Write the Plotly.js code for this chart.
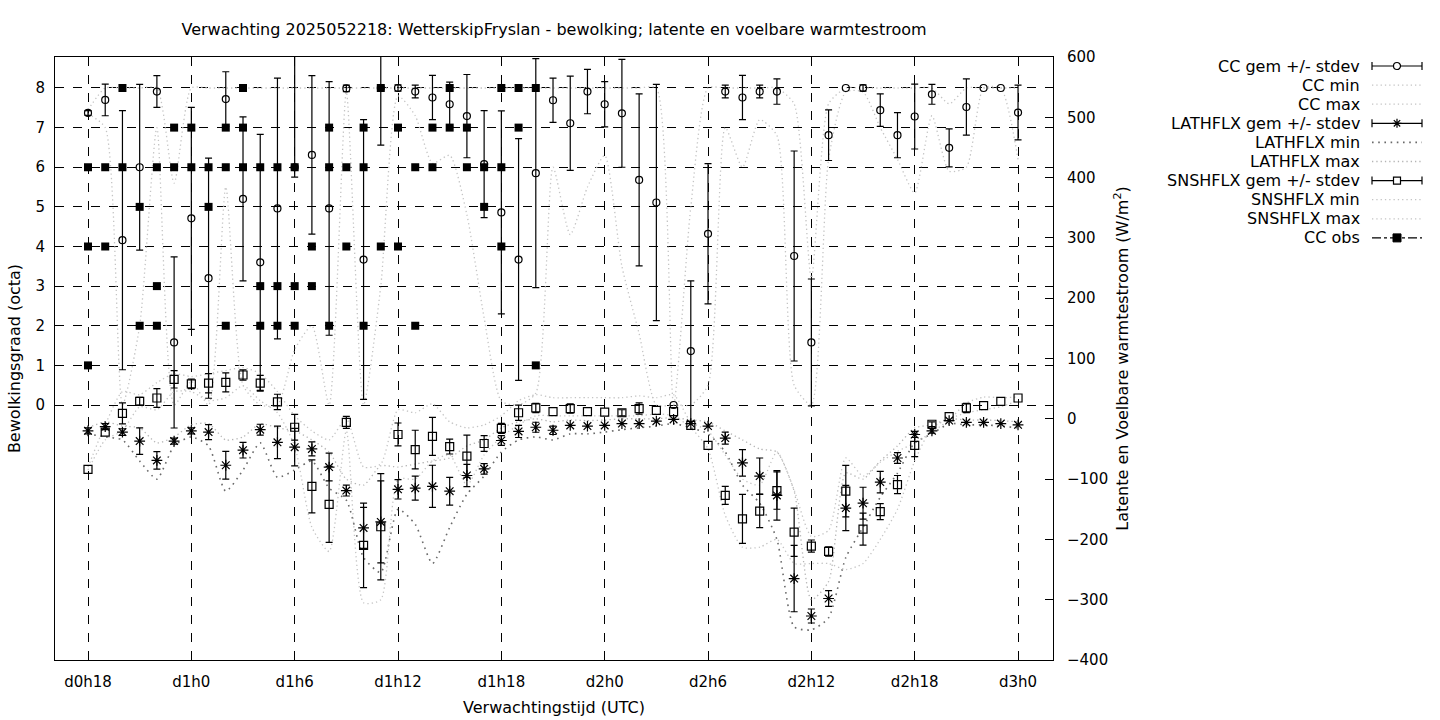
<!DOCTYPE html>
<html><head><meta charset="utf-8">
<script src="https://cdn.plot.ly/plotly-3.0.1.min.js"></script>
<style>html,body{margin:0;padding:0;background:#fff}#chart{width:1440px;height:720px}</style>
</head><body><div id="chart"></div>
<script>
// forecast hour since d0h0
const hours = [18,19,20,21,22,23,24,25,26,27,28,29,30,31,32,33,34,35,36,37,38,39,40,41,42,43,44,45,46,47,48,49,50,51,52,53,54,55,56,57,58,59,60,61,62,63,64,65,66,67,68,69,70,71,72];
const tickHours = [18,24,30,36,42,48,54,60,66,72];
const tickLabels = ['d0h18','d1h0','d1h6','d1h12','d1h18','d2h0','d2h6','d2h12','d2h18','d3h0'];

// cloud cover (octa)
const cc_mean = [7.37,7.70,4.16,6.00,7.91,1.58,4.71,3.20,7.72,5.20,3.60,4.96,6.00,6.31,4.96,7.99,3.67,8.00,8.00,7.91,7.76,7.59,7.29,6.08,4.86,3.67,5.85,7.69,7.11,7.91,7.59,7.36,5.68,5.11,0.00,1.36,4.32,7.91,7.76,7.91,7.91,3.76,1.58,6.81,8.00,8.00,7.44,6.81,7.28,7.84,6.49,7.52,8.00,8.00,7.38];
const cc_sd_plus = [0.06,0.40,3.27,2.09,0.40,2.16,2.80,3.03,0.69,2.07,3.23,3.29,3.00,2.00,3.20,0.08,3.53,1.44,0.08,0.16,0.56,0.56,1.05,1.35,2.56,3.05,2.89,0.56,1.19,0.56,0.57,1.36,2.17,2.98,0,1.77,1.77,0.16,0.56,0.16,0.32,2.65,1.60,0.64,0,0.08,0.41,0.57,0.82,0.25,0.48,0.71,0,0,0.69];
const cc_sd_minus = [0.06,0.40,3.27,2.09,0.40,2.16,2.80,3.03,0.69,2.07,3.23,3.29,0.25,2.00,3.20,0.08,3.53,1.44,0.08,0.16,0.56,0.56,1.05,1.35,2.56,3.05,2.89,0.56,1.19,0.56,0.57,1.36,2.17,2.98,0,1.77,1.77,0.16,0.56,0.16,0.32,2.65,1.60,0.64,0,0.08,0.41,0.57,0.82,0.25,0.48,0.71,0,0,0.69];
const cc_min = [7.35,7.0,0,2.0,7.0,0,0.6,0,5.5,0.5,0,0,1.4,2.0,0,7.9,0,3.0,7.8,7.3,6.1,6.3,4.8,2.2,0.1,0,0.3,6.0,4.3,5.5,6.3,3.5,1.8,0,0,0,0.5,7.0,6.0,7.2,6.8,0.5,0,6.2,7.9,7.9,7.0,6.2,5.35,7.3,5.9,6.0,8,8,6.2];
const cc_max = [7.45,8,8,8,8,5.6,8,8,8,8,8,8,8,8,8,8,8,8,8,8,8,8,8,8,8,8,8,8,8,8,8,8,8,8,0,5.0,8,8,8,8,8,7.6,3.2,7.6,8,8,8,8,8,8,7.6,8,8,8,8];

// latent heat flux (W/m2)
const lath_mean = [-20,-13,-22,-37,-69,-37,-20,-22,-77,-52,-18,-39,-47,-50,-80,-119,-181,-171,-117,-115,-112,-120,-94,-83,-36,-21,-14,-19,-11,-12,-11,-8,-8,-4,-1,-8,-12,-32,-73,-95,-127,-265,-327,-298,-148,-140,-105,-65,-26,-20,-3,-6,-6,-8,-10];
const lath_sd = [5,5,5.5,22,14.6,5,5,12.4,23,13,9,27,31,11.6,23,9,34,68,16,20,35,23,18.5,8.6,8,10,8.3,7,0,0,0,0,0,0,0,0,0,10,22,30,41,55,11.6,13,37.6,26.5,17.7,9,5,4,0,0,0,0,0];
const lath_min = [-25,-30,-35,-70,-100,-45,-30,-45,-120,-85,-40,-97,-85,-70,-115,-135,-230,-255,-150,-175,-240,-180,-125,-95,-55,-35,-30,-35,-25,-25,-22,-18,-15,-12,-8,-15,-25,-55,-110,-140,-200,-345,-350,-330,-230,-180,-130,-90,-40,-25,-8,-10,-10,-12,-15];
const lath_max = [-15,-5,-12,-15,-40,-30,-10,-8,-35,-30,-8,-15,-20,-35,-55,-100,-110,-78,-80,-75,-70,-65,-45,-35,-15,-5,0,-5,-2,-3,-2,0,0,0,2,-2,-5,-20,-35,-50,-55,-120,-300,-270,-90,-100,-70,-45,-15,-10,0,-2,-2,-3,-5];

// sensible heat flux (W/m2)
const sns_mean = [-84,-22,9,29,34.5,65.5,58,59,60.5,72.6,59,28,-14,-112,-142,-6,-210,-179,-26,-51,-29,-46,-62,-41,-16,10,18,12,17,12,11,10,17,14,12,-11,-44,-127,-166,-153,-119,-188,-211,-220,-120,-183,-154,-109,-44,-9,3.5,18,22,29,34.5];
const sns_sd = [0,0,17.4,6.4,15.7,14.4,8,16,15.7,8.6,13,12.7,21.5,44,63,10,70,88,19,32,31.5,12.4,35,13,8.3,12.7,7.7,0,7.7,0,0,5,9.4,0,0,0,0,15,40.6,27.6,31,40,10,7.7,42.6,26.5,13.3,15,18.8,4,0,7.7,0,0,0];
const sns_min = [-85,-35,-20,20,15,45,45,30,35,55,30,10,-45,-180,-220,-20,-305,-300,-100,-100,-70,-60,-110,-60,-30,-10,5,5,5,5,5,5,5,8,5,-15,-50,-160,-213,-213,-200,-240,-240,-240,-250,-240,-200,-150,-70,-15,0,10,15,20,30];
const sns_max = [-80,-10,45,40,60,75,70,75,80,85,75,45,5,-20,-35,0,-80,-75,15,10,25,-5,-15,-10,5,30,40,35,35,35,35,35,38,35,40,-5,-20,-60,-100,-110,-55,-118,-195,-185,-65,-95,-72,-54,-40,-22,-2,26,36,35,36];

// observed cloud cover (octa), several stations per hour
const obs_hours = [18,18,18,19,19,20,20,21,21,22,22,22,23,23,24,24,25,25,26,26,26,27,27,27,28,28,28,29,29,29,30,30,30,31,31,32,32,32,33,33,34,34,34,35,35,36,36,37,37,38,38,39,39,40,40,41,41,42,42,42,43,43,44,44];
const obs_cc    = [6,4,1,6,4,8,6,5,2,6,3,2,7,6,7,6,6,5,7,6,2,8,7,6,6,3,2,6,3,2,6,3,2,4,3,7,6,2,6,4,7,6,2,8,4,7,4,6,2,7,6,8,7,7,6,6,5,8,6,4,8,7,8,1];

const legendNames = ['CC gem +/- stdev','CC min','CC max','LATHFLX gem +/- stdev','LATHFLX min','LATHFLX max','SNSHFLX gem +/- stdev','SNSHFLX min','SNSHFLX max','CC obs'];

const nz = a => a.map(v => v > 0 ? v : NaN);
const FONT = 'DejaVu Sans, sans-serif';
const LIGHT = '#c4c4c4', MID = '#b4b4b4', DARK = '#6a6a6a';
const DOT = '1.3px,3px', DOTDARK = '1.6px,4.6px';
const dotLight = {color:LIGHT, width:1.3, dash:DOT, shape:'spline', smoothing:0.6};
const dotMid = {color:MID, width:1.3, dash:DOT, shape:'spline', smoothing:0.6};
const dotDark = {color:DARK, width:1.6, dash:DOTDARK, shape:'spline', smoothing:0.6};
const eb = (plus, minus) => ({type:'data', symmetric:false, array:nz(plus), arrayminus:nz(minus), color:'#000', thickness:1.2, width:3.5});

const traces = [
  {x:hours, y:cc_min, yaxis:'y', mode:'lines', line:dotLight, hoverinfo:'skip'},
  {x:hours, y:cc_max, yaxis:'y', mode:'lines', line:dotLight, hoverinfo:'skip'},
  {x:hours, y:cc_mean, yaxis:'y', mode:'markers', marker:{symbol:'circle-open', size:7, color:'#000', line:{width:1.2, color:'#000'}}, error_y:eb(cc_sd_plus, cc_sd_minus)},
  {x:obs_hours, y:obs_cc, yaxis:'y', mode:'markers', marker:{symbol:'square', size:8, color:'#000'}},
  {x:hours, y:lath_min, yaxis:'y2', mode:'lines', line:dotDark, hoverinfo:'skip'},
  {x:hours, y:lath_max, yaxis:'y2', mode:'lines', line:dotMid, hoverinfo:'skip'},
  {x:hours, y:sns_min, yaxis:'y2', mode:'lines', line:dotLight, hoverinfo:'skip'},
  {x:hours, y:sns_max, yaxis:'y2', mode:'lines', line:dotLight, hoverinfo:'skip'},
  {x:hours, y:lath_mean, yaxis:'y2', mode:'markers', marker:{symbol:'asterisk-open', size:9, color:'#000', line:{width:1.2, color:'#000'}}, error_y:eb(lath_sd, lath_sd)},
  {x:hours, y:sns_mean, yaxis:'y2', mode:'markers', marker:{symbol:'square-open', size:8, color:'#000', line:{width:1.2, color:'#000'}}, error_y:eb(sns_sd, sns_sd)}
];

// key (legend) drawn as text + pixel-sized samples at the right
const keyLine = [
  {color:'#000', width:1.2, dash:'solid'}, {color:LIGHT, width:1.3, dash:DOT}, {color:LIGHT, width:1.3, dash:DOT},
  {color:'#000', width:1.2, dash:'solid'}, {color:DARK, width:1.6, dash:DOTDARK}, {color:MID, width:1.3, dash:DOT},
  {color:'#000', width:1.2, dash:'solid'}, {color:LIGHT, width:1.3, dash:DOT}, {color:LIGHT, width:1.3, dash:DOT},
  {color:'#000', width:1.2, dash:'dashdot'}
];
const keyMark = ['circle', null, null, 'asterisk', null, null, 'square', null, null, 'filled'];
const keyCaps = [true,false,false,true,false,false,true,false,false,false];
const kx = (1397-55)/998;
const ky = i => (660-(66+19.1*i))/603;
const annotations = [], shapes = [];
const P = (o) => Object.assign({xref:'paper', yref:'paper', xsizemode:'pixel', ysizemode:'pixel', layer:'above'}, o);
legendNames.forEach((nm, i) => {
  const y = ky(i);
  annotations.push({xref:'paper', yref:'paper', x:(1362-55)/998, y:y, xanchor:'right', yanchor:'middle', text:nm, showarrow:false, font:{family:FONT, size:16, color:'#000'}});
  shapes.push(P({type:'line', xanchor:kx, yanchor:y, x0:-25, x1:25, y0:0, y1:0, line:keyLine[i]}));
  if (keyCaps[i]) {
    shapes.push(P({type:'line', xanchor:kx, yanchor:y, x0:-25, x1:-25, y0:-4, y1:4, line:{color:'#000', width:1.2}}));
    shapes.push(P({type:'line', xanchor:kx, yanchor:y, x0:25, x1:25, y0:-4, y1:4, line:{color:'#000', width:1.2}}));
  }
  const m = keyMark[i];
  if (m === 'circle') shapes.push(P({type:'circle', xanchor:kx, yanchor:y, x0:-3.5, x1:3.5, y0:-3.5, y1:3.5, fillcolor:'#fff', line:{color:'#000', width:1.2}}));
  if (m === 'square') shapes.push(P({type:'rect', xanchor:kx, yanchor:y, x0:-3.5, x1:3.5, y0:-3.5, y1:3.5, fillcolor:'#fff', line:{color:'#000', width:1.2}}));
  if (m === 'filled') shapes.push(P({type:'rect', xanchor:kx, yanchor:y, x0:-4, x1:4, y0:-4, y1:4, fillcolor:'#000', line:{color:'#000', width:1}}));
  if (m === 'asterisk') shapes.push(P({type:'path', xanchor:kx, yanchor:y, path:'M-4.5,0L4.5,0M0,-4.5L0,4.5M-3.2,-3.2L3.2,3.2M-3.2,3.2L3.2,-3.2', line:{color:'#000', width:1.2}}));
});

const layout = {
  width:1440, height:720, autosize:false,
  margin:{l:55, r:387, t:57, b:60, pad:0},
  paper_bgcolor:'#fff', plot_bgcolor:'#fff',
  font:{family:FONT, size:15, color:'#000'},
  showlegend:false,
  title:{text:'Verwachting 2025052218: WetterskipFryslan - bewolking; latente en voelbare warmtestroom', x:0.5, xref:'paper', xanchor:'center', y:1-29/720, yref:'container', yanchor:'middle', font:{family:FONT, size:16, color:'#000'}},
  xaxis:{range:[16.084, 74.03], tickvals:tickHours, ticktext:tickLabels, showgrid:true, gridcolor:'#000', griddash:'dash', gridwidth:1, zeroline:false, showline:true, linecolor:'#000', linewidth:1, mirror:true, ticks:'inside', ticklen:8, tickcolor:'#000', ticklabelstandoff:8, tickfont:{size:15}, title:{text:'Verwachtingstijd (UTC)', font:{family:FONT, size:16}, standoff:11}},
  yaxis:{range:[-6.435, 8.782], tickvals:[0,1,2,3,4,5,6,7,8], showgrid:true, gridcolor:'#000', griddash:'dash', gridwidth:1, zeroline:false, showline:true, linecolor:'#000', linewidth:1, mirror:true, ticks:'inside', ticklen:8, tickcolor:'#000', ticklabelstandoff:6, tickfont:{size:15}, title:{text:'Bewolkingsgraad (octa)', font:{family:FONT, size:16}, standoff:10}},
  yaxis2:{range:[-400, 600], tickvals:[-400,-300,-200,-100,0,100,200,300,400,500,600], overlaying:'y', side:'right', showgrid:false, zeroline:false, showline:true, linecolor:'#000', ticks:'inside', ticklen:8, tickcolor:'#000', ticklabelstandoff:10, tickfont:{size:15}, title:{text:'Latente en Voelbare warmtestroom (W/m<sup>2</sup>)', font:{family:FONT, size:16}, standoff:9}},
  annotations:annotations,
  shapes:shapes
};

Plotly.newPlot('chart', traces, layout, {displayModeBar:false, staticPlot:true});
</script>
</body></html>
